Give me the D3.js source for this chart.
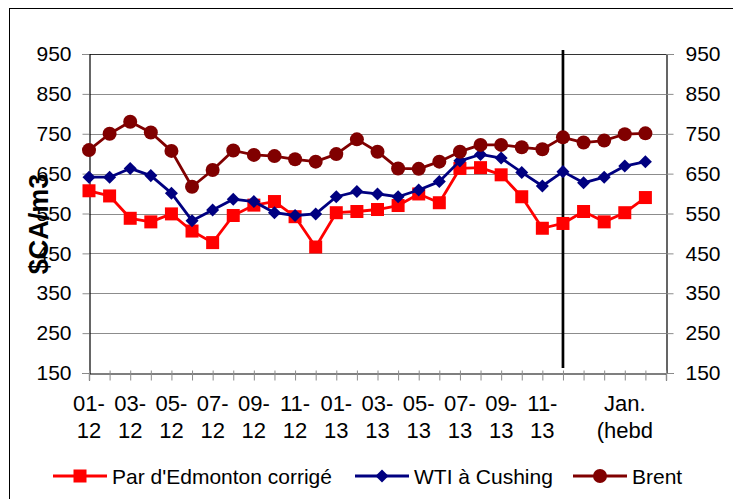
<!DOCTYPE html>
<html>
<head>
<meta charset="utf-8">
<script src="https://cdn.jsdelivr.net/npm/d3@7"></script>
<style>
  body { margin: 0; background: #fff; }
  svg text { font-family: "Liberation Sans", Arial, sans-serif; fill: #000; }
</style>
</head>
<body>
<div id="chart"></div>
<script>
// months 01-12 .. 12-13, then weekly January points
var categories = ["01-12","02-12","03-12","04-12","05-12","06-12","07-12","08-12","09-12","10-12","11-12","12-12",
                  "01-13","02-13","03-13","04-13","05-13","06-13","07-13","08-13","09-13","10-13","11-13","12-13",
                  "Jan. S1","Jan. S2","Jan. S3","Jan. S4"];
// [index, line1, line2]
var tickLabels = [[0,"01-","12"],[2,"03-","12"],[4,"05-","12"],[6,"07-","12"],[8,"09-","12"],[10,"11-","12"],
                  [12,"01-","13"],[14,"03-","13"],[16,"05-","13"],[18,"07-","13"],[20,"09-","13"],[22,"11-","13"],
                  [26,"Jan.","(hebd"]];
var yTicks = [150,250,350,450,550,650,750,850,950];

var edmonton = [607,594,538,529,549,506,477,545,571,580,542,466,552,555,560,570,599,577,663,665,647,592,513,525,555,529,552,590];
var wti      = [641,641,663,645,601,532,559,586,580,552,545,549,592,605,599,592,609,630,682,698,689,653,619,655,627,641,669,680];
var brent    = [709,750,780,753,707,617,659,708,697,694,686,680,699,736,705,663,662,680,705,722,722,716,711,741,728,733,749,751];

var seriesNames = ["Par d'Edmonton corrigé", "WTI à Cushing", "Brent"];
var seriesColors = ["#ff0000", "#000080", "#800000"];
var seriesShapes = ["square", "diamond", "circle"];
var splitIndex = 23; // monthly / weekly separator

var W = 733, H = 499;
var mLeft = 89, mRight = 666, mTop = 54, mBottom = 373;

var svg = d3.select("#chart").append("svg")
    .attr("width", W)
    .attr("height", H);

// outer frame
svg.append("rect")
    .attr("x", 9.5).attr("y", 8.5)
    .attr("width", W).attr("height", H)
    .attr("fill", "none").attr("stroke", "#000").attr("stroke-width", 1);

var x = d3.scaleLinear().domain([0, categories.length]).range([mLeft, mRight]);
var y = d3.scaleLinear().domain([150, 950]).range([mBottom, mTop]);

// grid lines
svg.append("g").selectAll("line")
    .data(yTicks.filter(function(d){ return d > 150 && d < 950; }))
    .enter().append("line")
    .attr("x1", mLeft).attr("x2", mRight)
    .attr("y1", function(d){ return Math.round(y(d)) + 0.5; })
    .attr("y2", function(d){ return Math.round(y(d)) + 0.5; })
    .attr("stroke", "#8c8c8c").attr("stroke-width", 1);

// top border
svg.append("line")
    .attr("x1", mLeft).attr("x2", mRight)
    .attr("y1", mTop + 0.5).attr("y2", mTop + 0.5)
    .attr("stroke", "#333").attr("stroke-width", 1);

// left axis
var yAxisL = d3.axisLeft(y).tickValues(yTicks).tickSize(7).tickPadding(11);
var gL = svg.append("g").attr("transform", "translate(" + (mLeft + 0.5) + ",0)").call(yAxisL);
// right axis
var yAxisR = d3.axisRight(y).tickValues(yTicks).tickSize(7).tickPadding(12);
var gR = svg.append("g").attr("transform", "translate(" + (mRight + 0.5) + ",0)").call(yAxisR);

[gL, gR].forEach(function(g) {
  g.select(".domain").attr("stroke", "#000").attr("stroke-width", 1.2);
  g.selectAll(".tick line").attr("stroke", "#8c8c8c");
  g.selectAll(".tick text").style("font-size", "21px").attr("fill", "#000");
});

// x axis
var xAxis = d3.axisBottom(x).tickValues(d3.range(0, categories.length + 1)).tickSize(7).tickFormat("");
var gX = svg.append("g").attr("transform", "translate(0," + (mBottom + 0.5) + ")").call(xAxis);
gX.select(".domain").attr("stroke", "#000").attr("stroke-width", 1.2);
gX.selectAll(".tick line").attr("stroke", "#8c8c8c").attr("y1", -3).attr("y2", 7);

var xl = svg.append("g").selectAll("text")
    .data(tickLabels)
    .enter().append("text")
    .attr("text-anchor", "middle")
    .style("font-size", "22px")
    .attr("transform", function(d){ return "translate(" + x(d[0]) + ",0)"; });
xl.append("tspan").attr("x", 0).attr("y", 411).text(function(d){ return d[1]; });
xl.append("tspan").attr("x", 0).attr("y", 438).text(function(d){ return d[2]; });

// y title
svg.append("text")
    .attr("transform", "translate(48,224) rotate(-90)")
    .attr("text-anchor", "middle")
    .style("font-size", "27px")
    .style("font-weight", "bold")
    .text("$CA/m3");

// separator line
svg.append("line")
    .attr("x1", x(splitIndex)).attr("x2", x(splitIndex))
    .attr("y1", 50).attr("y2", 368)
    .attr("stroke", "#000").attr("stroke-width", 2.7);

function marker(sel, shape, color) {
  if (shape === "circle") {
    sel.append("circle").attr("r", 7).attr("fill", color);
  } else if (shape === "square") {
    sel.append("rect").attr("x", -6.5).attr("y", -6.5).attr("width", 13).attr("height", 13).attr("fill", color);
  } else {
    sel.append("path").attr("d", d3.symbol(d3.symbolSquare, 85)()).attr("transform", "rotate(45)").attr("fill", color);
  }
}

var allSeries = [edmonton, wti, brent];
var line = d3.line()
    .x(function(d, i){ return x(i); })
    .y(function(d){ return y(d); });

allSeries.forEach(function(data, s) {
  svg.append("path")
      .datum(data)
      .attr("d", line)
      .attr("fill", "none")
      .attr("stroke", seriesColors[s])
      .attr("stroke-width", 2.8)
      .attr("stroke-linejoin", "round");
  var pts = svg.append("g").selectAll("g")
      .data(data)
      .enter().append("g")
      .attr("transform", function(d, i){ return "translate(" + x(i) + "," + y(d) + ")"; });
  pts.each(function() { marker(d3.select(this), seriesShapes[s], seriesColors[s]); });
});

// legend
var legendX = [53, 355, 573];
var lg = svg.append("g").selectAll("g")
    .data(seriesNames)
    .enter().append("g")
    .attr("transform", function(d, i){ return "translate(" + legendX[i] + ",476)"; });
lg.append("line")
    .attr("x1", 0).attr("x2", 54)
    .attr("stroke", function(d, i){ return seriesColors[i]; })
    .attr("stroke-width", 2.8);
lg.each(function(d, i) {
  var m = d3.select(this).append("g").attr("transform", "translate(27,0)");
  marker(m, seriesShapes[i], seriesColors[i]);
});
lg.append("text")
    .attr("x", 59).attr("y", 7.5)
    .style("font-size", "21px")
    .text(function(d){ return d; });
</script>
</body>
</html>
